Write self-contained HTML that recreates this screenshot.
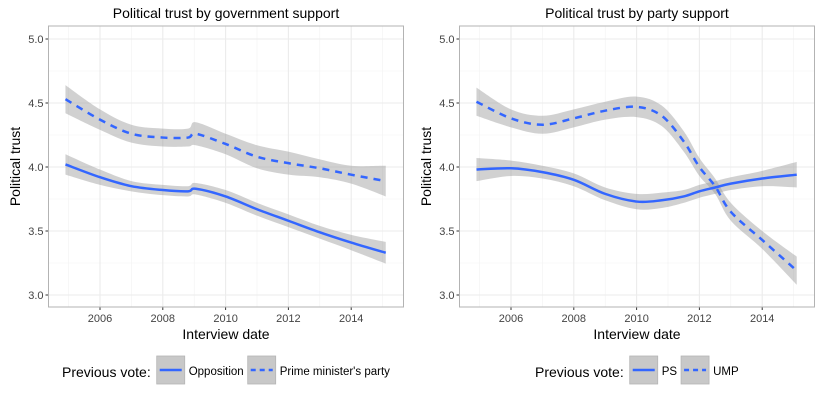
<!DOCTYPE html>
<html><head><meta charset="utf-8"><style>
body{margin:0;background:#fff;width:822px;height:407px;overflow:hidden;font-family:"Liberation Sans",Arial,sans-serif}
svg text{font-family:"Liberation Sans",Arial,sans-serif}
</style></head><body>
<svg id="chart" width="822" height="407" xmlns="http://www.w3.org/2000/svg"></svg>
<script>
const years=[2004.9,2006,2007,2008,2008.8,2009.05,2010,2011,2012,2013,2014,2015.1];
const oppVals=[4.02,3.92,3.85,3.82,3.81,3.83,3.77,3.67,3.58,3.49,3.41,3.33];
const oppSe=[0.08,0.06,0.04,0.04,0.04,0.045,0.05,0.05,0.05,0.05,0.06,0.085];
const pmVals=[4.53,4.37,4.26,4.23,4.23,4.26,4.18,4.08,4.03,3.99,3.94,3.89];
const pmSe=[0.11,0.08,0.07,0.07,0.07,0.09,0.08,0.09,0.09,0.07,0.07,0.12];
const years2=[2004.9,2006,2007,2008,2009,2010,2010.8,2011.5,2012,2012.5,2013,2014,2015.1];
const psVals=[3.98,3.99,3.96,3.90,3.79,3.73,3.74,3.77,3.81,3.84,3.87,3.91,3.94];
const psSe=[0.09,0.06,0.05,0.05,0.05,0.06,0.06,0.05,0.05,0.05,0.05,0.06,0.1];
const umpVals=[4.51,4.38,4.33,4.38,4.44,4.47,4.40,4.20,4.00,3.85,3.65,3.43,3.19];
const umpSe=[0.11,0.07,0.07,0.07,0.07,0.08,0.08,0.08,0.07,0.06,0.07,0.07,0.11];
const yTicks=[3.0,3.5,4.0,4.5,5.0];
const xTicks=[2006,2008,2010,2012,2014];
const panels=[
 {ox:0,title:"Political trust by government support",xs:years,s:[{v:oppVals,e:oppSe,dash:false,n:"opposition"},{v:pmVals,e:pmSe,dash:true,n:"prime-ministers-party"}],leg:["Opposition","Prime minister's party"],legX:62},
 {ox:411,title:"Political trust by party support",xs:years2,s:[{v:psVals,e:psSe,dash:false,n:"ps"},{v:umpVals,e:umpSe,dash:true,n:"ump"}],leg:["PS","UMP"],legX:535}
];
const NS="http://www.w3.org/2000/svg";
const svg=document.getElementById('chart');
function mk(t,a,p){const e=document.createElementNS(NS,t);for(const k in a)e.setAttribute(k,a[k]);(p||svg).appendChild(e);return e;}
function spline(pts){let d=`M${pts[0][0]},${pts[0][1]}`;for(let i=0;i<pts.length-1;i++){const p0=pts[Math.max(0,i-1)],p1=pts[i],p2=pts[i+1],p3=pts[Math.min(pts.length-1,i+2)];const c1=[p1[0]+(p2[0]-p0[0])/6,p1[1]+(p2[1]-p0[1])/6],c2=[p2[0]-(p3[0]-p1[0])/6,p2[1]-(p3[1]-p1[1])/6];d+=`C${c1[0]},${c1[1]} ${c2[0]},${c2[1]} ${p2[0]},${p2[1]}`;}return d;}
panels.forEach((P,pi)=>{
 const L=48.5+P.ox,R=403.5+P.ox,T=26,B=307;
 const xS=v=>P.ox+100+(v-2006)*31.4, yS=v=>295-(v-3)*128;
 const g=mk('g',{});  
 const t=mk('text',{x:(L+R)/2,y:18,'text-anchor':'middle','font-size':14,fill:'#000'},g);t.textContent=P.title;
 
 mk('rect',{x:L,y:T,width:R-L,height:B-T,fill:'#fff'},g);
 for(let v=3.25;v<5;v+=0.5)mk('line',{x1:L,x2:R,y1:yS(v),y2:yS(v),stroke:'#f2f2f2','stroke-width':0.6},g);
 for(let v=2005;v<=2015;v+=2)mk('line',{x1:xS(v),x2:xS(v),y1:T,y2:B,stroke:'#f2f2f2','stroke-width':0.6},g);
 yTicks.forEach(v=>{mk('line',{x1:L,x2:R,y1:yS(v),y2:yS(v),stroke:'#ebebeb','stroke-width':1.1},g);mk('line',{x1:L-3,x2:L,y1:yS(v),y2:yS(v),stroke:'#333'},g);
  const tx=mk('text',{x:L-5,y:yS(v)+4,'text-anchor':'end','font-size':11,fill:'#444'},g);tx.textContent=v.toFixed(1);});
 xTicks.forEach(v=>{mk('line',{x1:xS(v),x2:xS(v),y1:T,y2:B,stroke:'#ebebeb','stroke-width':1.1},g);mk('line',{x1:xS(v),x2:xS(v),y1:B,y2:B+3,stroke:'#333'},g);
  const tx=mk('text',{x:xS(v),y:B+15,'text-anchor':'middle','font-size':11,fill:'#444'},g);tx.textContent=v;});
 P.s.forEach(s=>{
  const up=P.xs.map((x,i)=>[xS(x),yS(s.v[i]+s.e[i])]),lo=P.xs.map((x,i)=>[xS(x),yS(s.v[i]-s.e[i])]).reverse();
  const band=mk('path',{d:spline(up)+spline(lo).replace('M','L')+'Z',fill:'#999','fill-opacity':0.45},g);
  
 });
 P.s.forEach(s=>{
  const ln=mk('path',{d:spline(P.xs.map((x,i)=>[xS(x),yS(s.v[i])])),fill:'none',stroke:'#3366ff','stroke-width':2.5,'stroke-dasharray':s.dash?'7,6':'none'},g);
  
 });
 mk('rect',{x:L,y:T,width:R-L,height:B-T,fill:'none',stroke:'#b3b3b3','stroke-width':1},g);
 const xt=mk('text',{x:(L+R)/2,y:339,'text-anchor':'middle','font-size':14,fill:'#000'},g);xt.textContent='Interview date';
 const yt=mk('text',{x:0,y:0,'text-anchor':'middle','font-size':14,fill:'#000',transform:`translate(${P.ox+20},${(T+B)/2}) rotate(-90)`},g);yt.textContent='Political trust';
 const lg=mk('g',{},g);
 let x=P.legX;const lt=mk('text',{x:x,y:377,'font-size':14,fill:'#000'},lg);lt.textContent='Previous vote:';
 x+=lt.getComputedTextLength()+6;
 P.s.forEach((s,i)=>{
  const e=mk('g',{},lg);
  mk('rect',{x:x,y:356,width:28,height:28,fill:'#c8c8c8',stroke:'#b5b5b5','stroke-width':0.8},e);
  mk('line',{x1:x+3,x2:x+25,y1:370,y2:370,stroke:'#3366ff','stroke-width':2.5,'stroke-dasharray':s.dash?'5,4':'none'},e);
  const tx=mk('text',{x:x+32,y:375,'font-size':11.5,fill:'#000'},e);tx.textContent=P.leg[i];
  x+=32+tx.getComputedTextLength()+4;
 });
});
</script>
</body></html>
